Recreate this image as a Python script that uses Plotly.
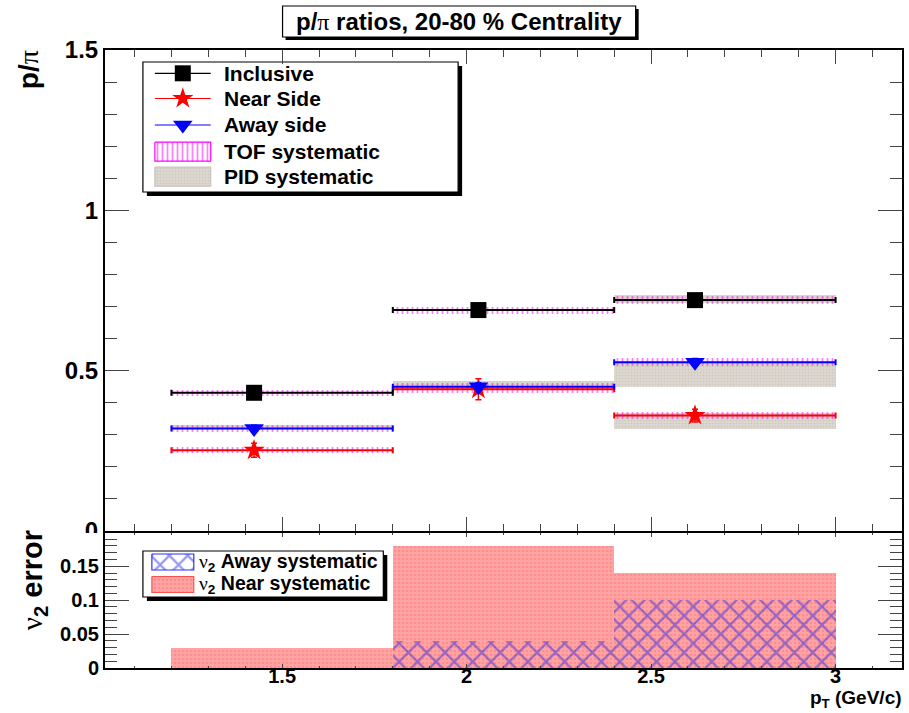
import plotly.graph_objects as go

# ---- data -------------------------------------------------------------
pt_lo = [1.2, 1.8, 2.4]
pt_hi = [1.8, 2.4, 3.0]
pt_mean = [1.424, 2.032, 2.619]

incl = [0.431, 0.689, 0.720]
incl_err = [0.010, 0.010, 0.010]
near = [0.252, 0.442, 0.360]
near_err = [0.022, 0.033, 0.020]
away = [0.320, 0.450, 0.526]
away_err = [0.010, 0.012, 0.012]

# TOF systematic half-widths (same for the three selections)
tof_sys = [0.010, 0.011, 0.012]

# PID systematic bands (low, high) per selection; None = no band
pid_incl = [None, None, (0.710, 0.735)]
pid_near = [None, None, (0.318, 0.368)]
pid_away = [(0.318, 0.332), (0.442, 0.469), (0.450, 0.526)]

# v2 systematic errors
v2_near_sys = [0.03, 0.18, 0.14]
v2_away_sys = [0.0, 0.04, 0.10]

# ---- geometry helpers ----------------------------------------------------
W, H = 909, 713
L, R, T, B = 105, 904, 50, 668
PW, PH = R - L, B - T


def px(x):
    return (x - L) / PW


def py(y):
    return (B - y) / PH


FONT = "Liberation Sans"
SERIF = "Liberation Serif"

bin_c = [(a + b) / 2 for a, b in zip(pt_lo, pt_hi)]
bin_w = [b - a for a, b in zip(pt_lo, pt_hi)]

PID_FILL = "#ddd9d1"
PID_PAT = dict(shape=".", fgcolor="#bdb6ad", size=3, solidity=0.3, fillmode="overlay")
TOF_PAT = dict(shape="|", fgcolor="#ff00ff", size=5, solidity=0.35, fillmode="overlay")
NEAR_FILL = "#ffa4a4"
NEAR_PAT = dict(shape=".", fgcolor="#ff7676", size=4, solidity=0.35, fillmode="overlay")
AWAY_PAT = dict(shape="x", fgcolor="rgba(30,30,235,0.9)", size=13, solidity=0.32,
                fillmode="overlay")

fig = go.Figure()

# PID systematic (grey boxes)
for band in (pid_incl, pid_near, pid_away):
    xs, bases, hs, ws = [], [], [], []
    for i, b in enumerate(band):
        if b is None:
            continue
        xs.append(bin_c[i]); ws.append(bin_w[i])
        bases.append(b[0]); hs.append(b[1] - b[0])
    fig.add_trace(go.Bar(
        x=xs, y=hs, base=bases, width=ws, xaxis="x", yaxis="y",
        marker=dict(color=PID_FILL, line=dict(width=0), pattern=PID_PAT),
        showlegend=False, hoverinfo="skip"))

# TOF systematic (magenta vertical hatching)
for vals in (incl, near, away):
    fig.add_trace(go.Bar(
        x=bin_c, y=[2 * s for s in tof_sys],
        base=[v - s for v, s in zip(vals, tof_sys)], width=bin_w,
        xaxis="x", yaxis="y",
        marker=dict(color="rgba(0,0,0,0)", line=dict(width=0), pattern=TOF_PAT),
        showlegend=False, hoverinfo="skip"))

# data points with bin-width horizontal bars
series = [
    (near, near_err, "#ff0000", "star", 16),
    (away, away_err, "#0000ff", "triangle-down", 17),
    (incl, incl_err, "#000000", "square", 16),
]
for vals, errs, col, sym, size in series:
    fig.add_trace(go.Scatter(
        x=pt_mean, y=vals, mode="markers", xaxis="x", yaxis="y",
        marker=dict(symbol=sym, size=size, color=col, line=dict(width=0)),
        error_x=dict(type="data", symmetric=False,
                     array=[h - m for h, m in zip(pt_hi, pt_mean)],
                     arrayminus=[m - l for m, l in zip(pt_mean, pt_lo)],
                     color=col, thickness=2, width=3),
        error_y=dict(type="data", array=errs, color=col, thickness=1.5, width=3),
        showlegend=False, hoverinfo="skip"))

# v2 systematics, lower panel
fig.add_trace(go.Bar(
    x=bin_c, y=v2_near_sys, width=bin_w, xaxis="x2", yaxis="y2",
    marker=dict(color=NEAR_FILL, line=dict(width=0), pattern=NEAR_PAT),
    showlegend=False, hoverinfo="skip"))
fig.add_trace(go.Bar(
    x=bin_c, y=v2_away_sys, width=bin_w, xaxis="x2", yaxis="y2",
    marker=dict(color="rgba(0,0,0,0)", line=dict(width=0), pattern=AWAY_PAT),
    showlegend=False, hoverinfo="skip"))

# ---- legend swatches (pixel-space overlay axes) ----------------------------
def seg(x0, x1, y, color):
    fig.add_trace(go.Scatter(x=[x0, x1], y=[y, y], mode="lines", xaxis="x3", yaxis="y3",
                             line=dict(color=color, width=1.2), showlegend=False,
                             hoverinfo="skip"))


def mark(x, y, sym, color, size):
    fig.add_trace(go.Scatter(x=[x], y=[y], mode="markers", xaxis="x3", yaxis="y3",
                             marker=dict(symbol=sym, color=color, size=size),
                             showlegend=False, hoverinfo="skip"))


def box(x0, x1, y0, y1, line, fillc, pattern):
    fig.add_trace(go.Scatter(x=[x0, x1, x1, x0, x0], y=[y0, y0, y1, y1, y0],
                             mode="lines", fill="toself", fillcolor=fillc,
                             fillpattern=pattern, xaxis="x3", yaxis="y3",
                             line=dict(color=line, width=1.2), showlegend=False,
                             hoverinfo="skip"))


rows = [73.3, 98.5, 125.0, 151.7, 176.7]
seg(155, 211, rows[0], "#000000"); mark(183, rows[0], "square", "#000000", 16)
seg(155, 211, rows[1], "#ff0000"); mark(183, rows[1], "star", "#ff0000", 16)
seg(155, 211, rows[2], "#0000ff"); mark(183, rows[2], "triangle-down", "#0000ff", 17)
box(155, 211, rows[3] - 9.5, rows[3] + 9.5, "#ff00ff", "rgba(0,0,0,0)", TOF_PAT)
box(155, 211, rows[4] - 9.5, rows[4] + 9.5, "#c8c2ba", PID_FILL, PID_PAT)

rows2 = [562.0, 584.5]
box(152, 194, rows2[0] - 8, rows2[0] + 8, "#3030ff", "rgba(0,0,0,0)", AWAY_PAT)
box(152, 194, rows2[1] - 8, rows2[1] + 8, "#ff5050", NEAR_FILL, NEAR_PAT)

# ---- shapes: legend frames, title box --------------------------------------
shapes = []


def frame(x0, y0, x1, y1, sh=4, layer="below"):
    shapes.append(dict(type="rect", xref="paper", yref="paper", layer=layer,
                       x0=px(x0 + sh), x1=px(x1 + sh), y0=py(y0 + sh), y1=py(y1 + sh),
                       fillcolor="black", line=dict(width=0)))
    shapes.append(dict(type="rect", xref="paper", yref="paper", layer=layer,
                       x0=px(x0), x1=px(x1), y0=py(y0), y1=py(y1),
                       fillcolor="white", line=dict(color="black", width=1.2)))


frame(143, 62, 459, 192, sh=4)
frame(143, 551, 384, 597, sh=4)
frame(283, 6, 637, 37, sh=3, layer="above")
# lower pad hides the bottom of the upper pad's "0" label
shapes.append(dict(type="rect", xref="paper", yref="paper", layer="above",
                   x0=px(40), x1=px(103), y0=py(548), y1=py(533),
                   fillcolor="white", line=dict(width=0)))

ann = []


def text(x, y, s, size, anchor="left", angle=0, yanchor="middle"):
    ann.append(dict(xref="paper", yref="paper", x=px(x), y=py(y), text=s,
                    showarrow=False, xanchor=anchor, yanchor=yanchor, textangle=angle,
                    font=dict(family=FONT, size=size, color="black", weight="bold")))


nu = f"<span style='font-family:{SERIF};font-weight:normal'>ν</span>"
pi = f"<span style='font-family:{SERIF};font-weight:normal'>π</span>"

legend_labels = ["Inclusive", "Near Side", "Away side", "TOF systematic", "PID systematic"]
for yy, lab in zip(rows, legend_labels):
    text(222, yy, lab, 21)
text(197, rows2[0], f"{nu}<sub>2</sub> Away systematic", 19.5)
text(197, rows2[1], f"{nu}<sub>2</sub> Near systematic", 19.5)

text(460, 21.5, f"p/{pi} ratios, 20-80 % Centrality", 24, anchor="center")
text(29, 70, f"p/{pi}", 28, anchor="center", angle=-90)
text(34, 580, f"{nu}<sub>2</sub> error", 29, anchor="center", angle=-90)
text(906, 699, "p<sub>T</sub> (GeV/c)", 19, anchor="right")

axis_common = dict(showline=True, linecolor="black", linewidth=2, mirror="ticks",
                   showgrid=False, zeroline=False, ticks="inside", tickcolor="#444",
                   tickwidth=1, tick0=0)
tf24 = dict(family=FONT, size=24, color="black", weight="bold")
tf20 = dict(family=FONT, size=20, color="black", weight="bold")

fig.update_layout(
    width=W, height=H, margin=dict(l=L, r=W - R, t=T, b=H - B),
    paper_bgcolor="white", plot_bgcolor="rgba(0,0,0,0)",
    barmode="overlay", showlegend=False, bargap=0,
    xaxis=dict(axis_common, domain=[0, 1], anchor="y", range=[1.02, 3.18], dtick=0.5,
               ticklen=14, showticklabels=False,
               minor=dict(dtick=0.1, ticklen=7, ticks="inside", tickcolor="#444")),
    yaxis=dict(axis_common, domain=[py(531), 1], anchor="x", range=[0, 1.5], dtick=0.5,
               ticklen=24, tickfont=tf24,
               minor=dict(dtick=0.1, ticklen=12, ticks="inside", tickcolor="#444")),
    xaxis2=dict(axis_common, domain=[0, 1], anchor="y2", range=[1.02, 3.18], dtick=0.5,
                ticklen=4, tickfont=tf20, matches="x", ticklabelstandoff=-11,
                minor=dict(dtick=0.1, ticklen=2, ticks="inside", tickcolor="#444")),
    yaxis2=dict(axis_common, domain=[0, py(533)], anchor="x2", range=[0, 0.199],
                dtick=0.05, ticklen=24, tickfont=tf20,
                minor=dict(dtick=0.01, ticklen=12, ticks="inside", tickcolor="#444")),
    xaxis3=dict(domain=[0, 1], anchor="y3", range=[L, R], visible=False, fixedrange=True),
    yaxis3=dict(domain=[0, 1], anchor="x3", range=[B, T], visible=False, fixedrange=True),
    shapes=shapes, annotations=ann,
)

fig.write_html("out.html")
